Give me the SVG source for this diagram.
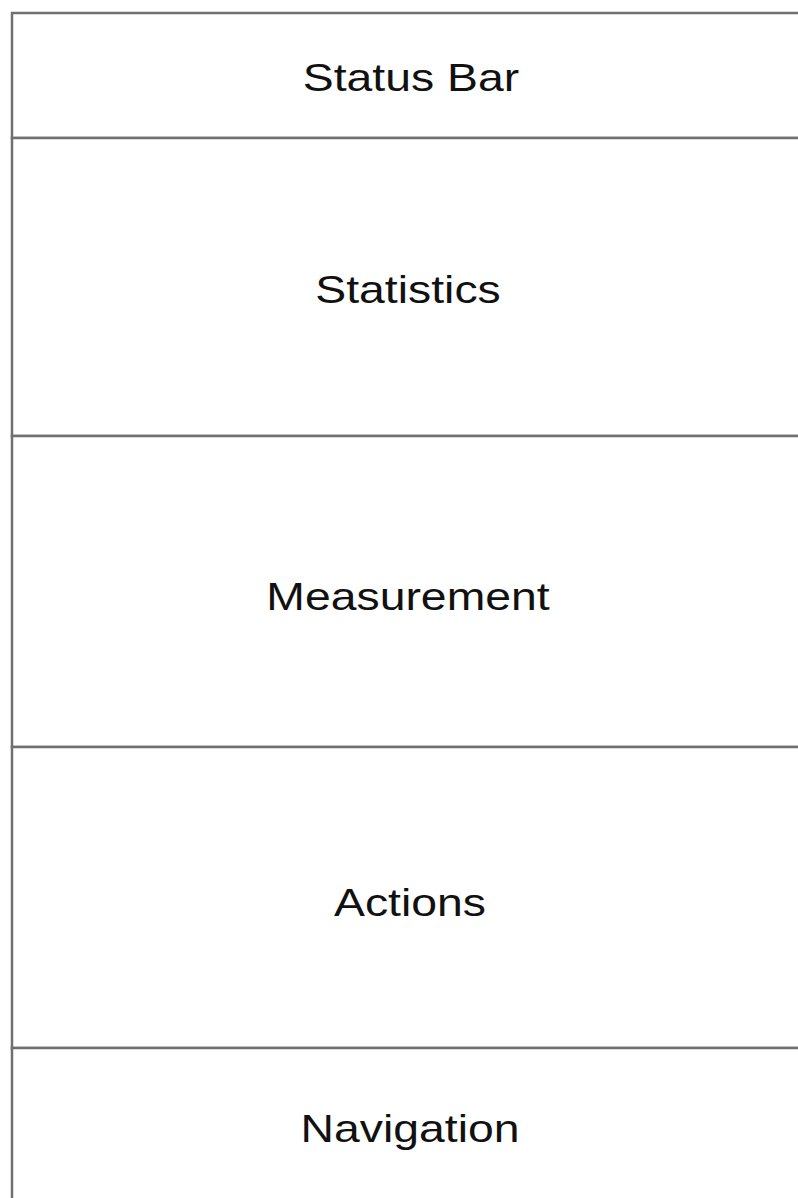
<svg xmlns="http://www.w3.org/2000/svg" width="798" height="1198" viewBox="0 0 798 1198">
<style>
.box{fill:#ffffff;stroke:#707070;stroke-width:2.5}
.lbl{font-family:"Liberation Sans",Arial,sans-serif;font-size:38px;fill:#111111;text-anchor:middle}
</style>
<rect x="0" y="0" width="798" height="1198" fill="#ffffff"/>
<g id="status-bar">
<rect class="box" x="12" y="13" width="800" height="125"/>
<text class="lbl" transform="translate(411,91) scale(1.22,1)">Status Bar</text>
</g>
<g id="statistics">
<rect class="box" x="12" y="138" width="800" height="298"/>
<text class="lbl" transform="translate(408,303) scale(1.22,1)">Statistics</text>
</g>
<g id="measurement">
<rect class="box" x="12" y="436" width="800" height="311"/>
<text class="lbl" transform="translate(408,610) scale(1.22,1)">Measurement</text>
</g>
<g id="actions">
<rect class="box" x="12" y="747" width="800" height="301"/>
<text class="lbl" transform="translate(410,916) scale(1.22,1)">Actions</text>
</g>
<g id="navigation">
<rect class="box" x="12" y="1048" width="800" height="160"/>
<text class="lbl" transform="translate(410,1142) scale(1.22,1)">Navigation</text>
</g>
<g id="connectors"></g>
</svg>
